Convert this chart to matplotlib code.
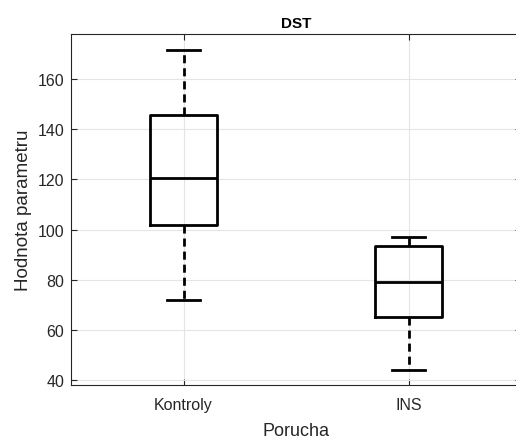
import matplotlib
matplotlib.use("Agg")
import matplotlib.pyplot as plt

# box statistics
groups = ["Kontroly", "INS"]
whisker_low = [72, 44]
q1 = [102, 65]
median = [120.5, 79]
q3 = [145.8, 93.3]
whisker_high = [171.6, 97]

plt.rcParams['font.family'] = ['Liberation Sans', 'DejaVu Sans']

fig = plt.figure(figsize=(5.16, 4.39), dpi=100)
ax = fig.add_axes([71/516, 53/439, 450/516, 351/439])

stats = []
for i in range(len(groups)):
    stats.append({'label': groups[i], 'whislo': whisker_low[i], 'q1': q1[i],
                  'med': median[i], 'q3': q3[i], 'whishi': whisker_high[i],
                  'fliers': []})

ax.bxp(stats, positions=[1, 2], widths=0.295, showfliers=False,
       boxprops=dict(color='black', linewidth=2),
       medianprops=dict(color='black', linewidth=2),
       whiskerprops=dict(color='black', linewidth=2, linestyle=(0, (2.9, 1.8))),
       capprops=dict(color='black', linewidth=2),
       capwidths=0.147)

ax.set_xlim(0.5, 2.5)
ax.set_ylim(38, 178)
ax.set_yticks([40, 60, 80, 100, 120, 140, 160])
ax.set_xticks([1, 2])
ax.set_xticklabels(groups)

ax.grid(True, color='#e5e5e5', linewidth=0.8)
ax.set_axisbelow(True)
for s in ax.spines.values():
    s.set_color('#262626')
    s.set_linewidth(0.8)
ax.tick_params(direction='in', top=True, right=True, colors='#262626',
               labelsize=11.5, length=4, width=0.8)
ax.tick_params(axis='x', pad=9)
ax.tick_params(axis='y', pad=5)

ax.set_title('DST', fontsize=11, fontweight='bold', pad=5)
ax.set_xlabel('Porucha', fontsize=13, color='#262626', labelpad=7)
ax.set_ylabel('Hodnota parametru', fontsize=13.5, color='#262626', labelpad=4)

fig.savefig('out.png', dpi=100)
